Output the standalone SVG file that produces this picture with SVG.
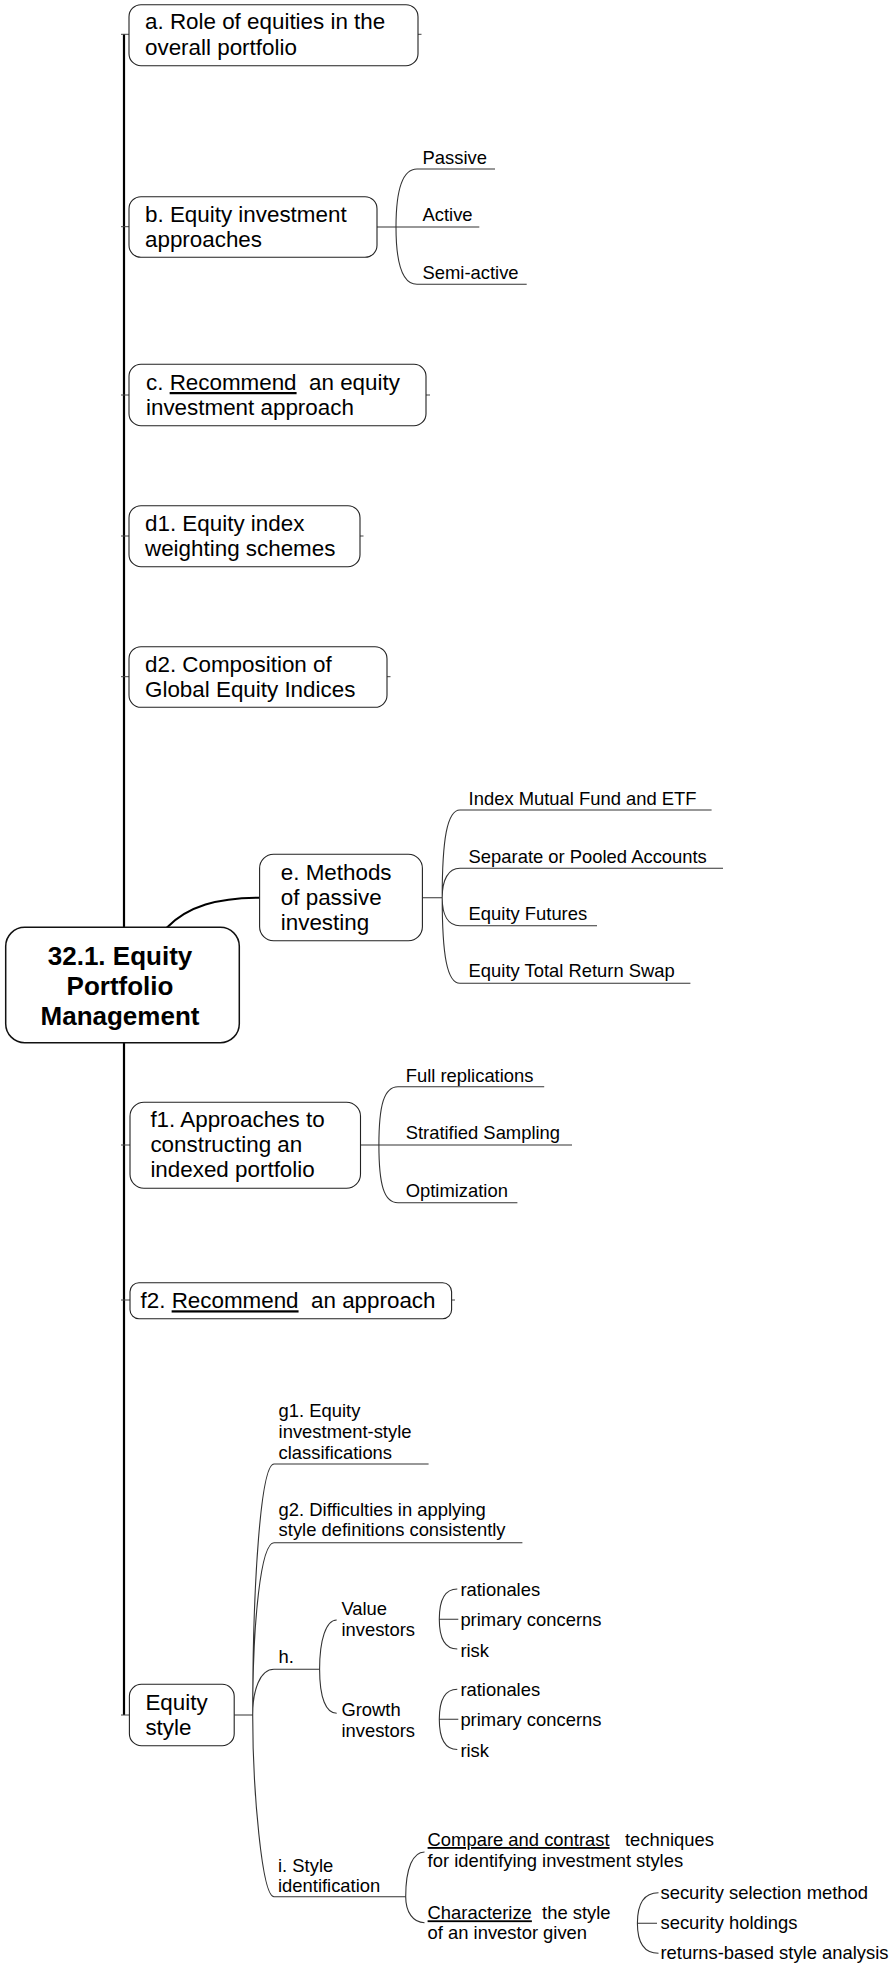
<svg xmlns="http://www.w3.org/2000/svg" width="894" height="1963" viewBox="0 0 894 1963">
<style>
.bg{fill:#fff}
.box{fill:#fff;stroke:#222;stroke-width:1.1}
.root{fill:#fff;stroke:#111;stroke-width:1.5}
.t{font-family:"Liberation Sans",Arial,sans-serif;font-size:22.4px;fill:#000}
.s{font-family:"Liberation Sans",Arial,sans-serif;font-size:18.4px;fill:#000}
.rt{font-family:"Liberation Sans",Arial,sans-serif;font-size:26px;font-weight:bold;fill:#000;text-anchor:middle}
.u{text-decoration:underline}
.ln{fill:none;stroke:#333;stroke-width:1.1}
.trunk{fill:none;stroke:#000;stroke-width:2.2}
.thick{fill:none;stroke:#000;stroke-width:2}
.tick{fill:none;stroke:#444;stroke-width:1}
</style>
<rect class="bg" x="0" y="0" width="894" height="1963"/>
<g id="connectors">
<path class="trunk" d="M124,34.3 V1715"/>
<path class="tick" d="M121,34.3 H129 M121,226.7 H129 M121,395 H129 M121,536 H129 M121,676.7 H129 M121,1145 H130 M121,1300 H130 M121,1715 H129.4"/>
<path class="tick" d="M418,34.3 H421.5 M426,395 H430 M360,536 H363.5 M387,676.7 H390.5 M451.6,1300 H455"/>
<path class="thick" d="M166.7,927.7 C188,906 218,897.7 259.6,897.7"/>
<path class="ln" d="M377,227 H396 M396,227 C396,192 402,169 417,169 H495 M396,227 H479.3 M396,227 C396,262 402,284.3 417,284.3 H526.7"/>
<path class="ln" d="M422.4,897.7 H442.2 M442.2,897.7 C442.2,840 447,810 460,810 H711.6 M442.2,897.7 C442.2,880 448,868.3 460,868.3 H723 M442.2,897.7 C442.2,915 448,925.7 460,925.7 H597 M442.2,897.7 C442.2,955 447,983.3 460,983.3 H690.4"/>
<path class="ln" d="M360.5,1145 H378.9 M378.9,1145 C378.9,1105 384,1086.7 398,1086.7 H544.2 M378.9,1145 H572 M378.9,1145 C378.9,1185 384,1202.7 398,1202.7 H517.4"/>
<path class="ln" d="M234.2,1715 H252.7 M252.7,1715 C252.7,1580 261,1464 274,1464 H428.6 M252.7,1715 C252.7,1620 261,1542.7 274,1542.7 H522.4 M252.7,1715 C252.7,1690 260,1669.3 274,1669.3 H319.6 M252.7,1715 C252.7,1790 262,1896.7 274,1896.7 H405.7"/>
<path class="ln" d="M319.6,1669.3 C319.6,1640 326,1620 336.7,1620 M319.6,1669.3 C319.6,1698 326,1713.3 336.7,1713.3"/>
<path class="ln" d="M439.3,1619.3 C439.3,1598 446,1589 457.3,1589 M439.3,1619.3 H458.3 M439.3,1619.3 C439.3,1640 446,1649 457.3,1649"/>
<path class="ln" d="M439.3,1719.3 C439.3,1698 446,1689.3 457.3,1689.3 M439.3,1719.3 H458.3 M439.3,1719.3 C439.3,1740 446,1749.5 457.3,1749.5"/>
<path class="ln" d="M405.7,1896.7 C405.7,1868 413,1852 424.5,1852 M405.7,1896.7 C405.7,1912 413,1922.7 424.5,1922.7"/>
<path class="ln" d="M637.4,1923.3 C637.4,1902 645,1892.7 658.5,1892.7 M637.4,1923.3 H657 M637.4,1923.3 C637.4,1944 645,1953.3 658.5,1953.3"/>
</g>
<g id="node-a">
<rect class="box" x="129" y="4.7" width="289" height="61" rx="12"/>
<text class="t" x="145" y="29.3">a. Role of equities in the</text>
<text class="t" x="145" y="55">overall portfolio</text>
</g>
<g id="node-b">
<rect class="box" x="129" y="196.7" width="248" height="60.6" rx="12"/>
<text class="t" x="145" y="221.7">b. Equity investment</text>
<text class="t" x="145" y="246.7">approaches</text>
</g>
<g id="node-b-passive"><text class="s" x="422.5" y="163.5">Passive</text></g>
<g id="node-b-active"><text class="s" x="422.5" y="220.8">Active</text></g>
<g id="node-b-semiactive"><text class="s" x="422.5" y="278.5">Semi-active</text></g>
<g id="node-c">
<rect class="box" x="129" y="364.3" width="297" height="61.4" rx="12"/>
<text class="t" x="146" y="390" xml:space="preserve">c. <tspan class="u">Recommend</tspan>  an equity</text>
<text class="t" x="146" y="415">investment approach</text>
</g>
<g id="node-d1">
<rect class="box" x="129" y="505.7" width="231" height="61" rx="12"/>
<text class="t" x="145" y="531">d1. Equity index</text>
<text class="t" x="145" y="555.7">weighting schemes</text>
</g>
<g id="node-d2">
<rect class="box" x="129" y="646.7" width="258" height="60.6" rx="12"/>
<text class="t" x="145" y="671.7">d2. Composition of</text>
<text class="t" x="145" y="696.7">Global Equity Indices</text>
</g>
<g id="node-e">
<rect class="box" x="259.6" y="854.3" width="162.8" height="86.4" rx="14"/>
<text class="t" x="280.8" y="880">e. Methods</text>
<text class="t" x="280.8" y="905">of passive</text>
<text class="t" x="280.8" y="930">investing</text>
</g>
<g id="node-e-1"><text class="s" x="468.6" y="805">Index Mutual Fund and ETF</text></g>
<g id="node-e-2"><text class="s" x="468.6" y="862.7">Separate or Pooled Accounts</text></g>
<g id="node-e-3"><text class="s" x="468.6" y="920">Equity Futures</text></g>
<g id="node-e-4"><text class="s" x="468.6" y="977.3">Equity Total Return Swap</text></g>
<g id="node-root">
<rect class="root" x="5.7" y="927.3" width="233.6" height="115.4" rx="19"/>
<text class="rt" x="120" y="965">32.1. Equity</text>
<text class="rt" x="120" y="995">Portfolio</text>
<text class="rt" x="120" y="1025">Management</text>
</g>
<g id="node-f1">
<rect class="box" x="130" y="1102.3" width="230.5" height="86" rx="14"/>
<text class="t" x="150.4" y="1126.7">f1. Approaches to</text>
<text class="t" x="150.4" y="1151.7">constructing an</text>
<text class="t" x="150.4" y="1176.7">indexed portfolio</text>
</g>
<g id="node-f1-1"><text class="s" x="405.7" y="1081.7">Full replications</text></g>
<g id="node-f1-2"><text class="s" x="405.7" y="1139.3">Stratified Sampling</text></g>
<g id="node-f1-3"><text class="s" x="405.7" y="1196.7">Optimization</text></g>
<g id="node-f2">
<rect class="box" x="130" y="1282.7" width="321.6" height="36" rx="9"/>
<text class="t" x="140.5" y="1308.3" xml:space="preserve">f2. <tspan class="u">Recommend</tspan>  an approach</text>
</g>
<g id="node-style">
<rect class="box" x="129.4" y="1684.3" width="104.8" height="61.4" rx="12"/>
<text class="t" x="145.4" y="1709.5">Equity</text>
<text class="t" x="145.4" y="1734.5">style</text>
</g>
<g id="node-g1">
<text class="s" x="278.6" y="1417.3">g1. Equity</text>
<text class="s" x="278.6" y="1438.3">investment-style</text>
<text class="s" x="278.6" y="1458.5">classifications</text>
</g>
<g id="node-g2">
<text class="s" x="278.6" y="1515.5">g2. Difficulties in applying</text>
<text class="s" x="278.6" y="1536.3">style definitions consistently</text>
</g>
<g id="node-h"><text class="s" x="278.6" y="1663.3">h.</text></g>
<g id="node-value">
<text class="s" x="341.4" y="1615">Value</text>
<text class="s" x="341.4" y="1636">investors</text>
</g>
<g id="node-value-1"><text class="s" x="460.4" y="1596">rationales</text></g>
<g id="node-value-2"><text class="s" x="460.4" y="1626">primary concerns</text></g>
<g id="node-value-3"><text class="s" x="460.4" y="1656.5">risk</text></g>
<g id="node-growth">
<text class="s" x="341.4" y="1715.5">Growth</text>
<text class="s" x="341.4" y="1736.5">investors</text>
</g>
<g id="node-growth-1"><text class="s" x="460.4" y="1696">rationales</text></g>
<g id="node-growth-2"><text class="s" x="460.4" y="1726">primary concerns</text></g>
<g id="node-growth-3"><text class="s" x="460.4" y="1756.5">risk</text></g>
<g id="node-i">
<text class="s" x="278" y="1871.7">i. Style</text>
<text class="s" x="278" y="1891.7">identification</text>
</g>
<g id="node-i-1">
<text class="s" x="427.6" y="1846" xml:space="preserve"><tspan class="u">Compare and contrast</tspan>   techniques</text>
<text class="s" x="427.6" y="1866.7">for identifying investment styles</text>
</g>
<g id="node-i-2">
<text class="s" x="427.6" y="1919.3" xml:space="preserve"><tspan class="u">Characterize</tspan>  the style</text>
<text class="s" x="427.6" y="1939.3">of an investor given</text>
</g>
<g id="node-i-2-1"><text class="s" x="660.5" y="1898.5">security selection method</text></g>
<g id="node-i-2-2"><text class="s" x="660.5" y="1928.5">security holdings</text></g>
<g id="node-i-2-3"><text class="s" x="660.5" y="1958.5">returns-based style analysis</text></g>
</svg>
